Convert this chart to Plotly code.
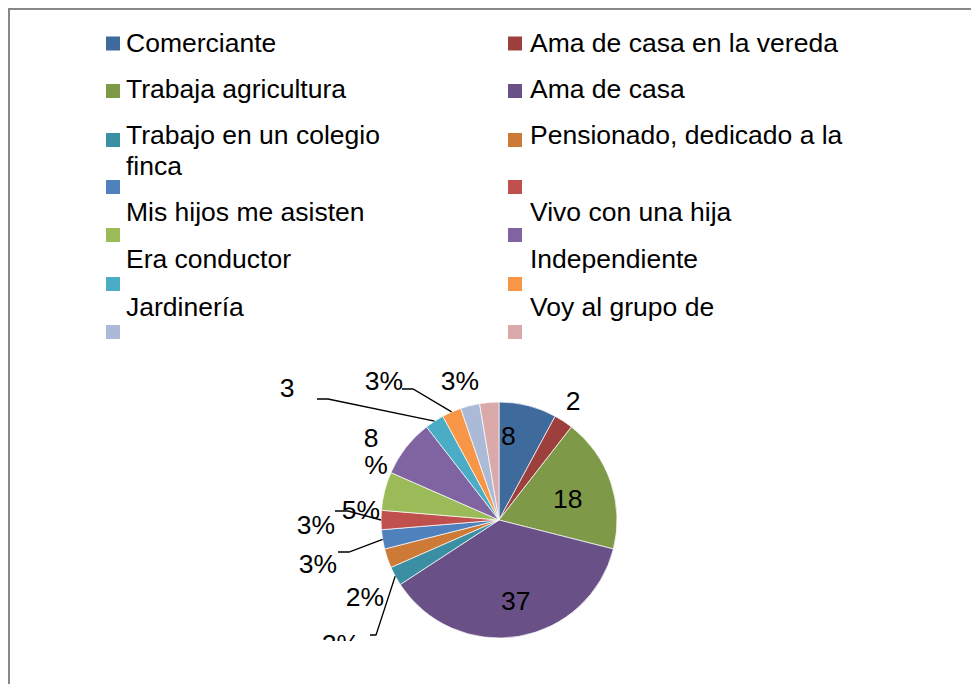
import math
import plotly.graph_objects as go

# ── Data ──────────────────────────────────────────────────────────
categories = [
    "Comerciante", "Ama de casa en la vereda", "Trabaja agricultura",
    "Ama de casa", "Trabajo en un colegio", "Pensionado, dedicado a la finca",
    "Mis hijos me asisten", "Vivo con una hija", "Era conductor",
    "Independiente", "Jardinería", "Voy al grupo de", "Otra", "NO",
]
counts = [3, 1, 7, 14, 1, 1, 1, 1, 2, 3, 1, 1, 1, 1]

# legend text as it shows in the (clipped) legend, "" = cut off
legend_text = [
    "Comerciante", "Ama de casa en la vereda",
    "Trabaja agricultura", "Ama de casa",
    "Trabajo en un colegio\nfinca", "Pensionado, dedicado a la",
    "Mis hijos me asisten", "Vivo con una hija",
    "Era conductor", "Independiente",
    "Jardinería", "Voy al grupo de",
    "", "",
]

inside_labels = ["8", "18", "37"]
outside_labels = ["2", "3%", "3%", "3", "8", "%", "5%", "3%", "3%", "2%", "2%"]

colors = [
    "#3F6A9C", "#9D403D", "#7E9A48", "#695086", "#3A8FA3", "#CC7A36",
    "#4F81BD", "#C0504D", "#9BBB59", "#8064A2", "#4BACC6", "#F79646",
    "#AABAD7", "#D9AAA9",
]

# ── Layout constants (screen pixels) ──────────────────────────────
W, H = 979, 684
OFF = 8                                  # page body margin
CX, CY, R = 499, 520, 118
FONT = dict(family="Liberation Sans, Arial, sans-serif", size=26.5, color="#000000")

leg_x = [106, 508]                       # square left edge per column
leg_text_x = [124, 528]
leg_square_y = [43.5, 91, 140, 187, 235, 284, 332]
leg_text_y = [[43], [89], [135, 166], [212], [259], [307], []]

inside_pos = [(508, 436), (567, 499), (515, 601)]
outside_pos = [(573, 403), (384, 383), (460, 383), (287, 390), (371, 440),
               (376, 467), (361, 512), (316, 527), (318, 566), (365, 599),
               (341, 646)]

# leader lines: (slice index, start point, elbow point)
leaders = [
    (10, (317, 399), (328, 399)),
    (11, (402, 389), (413, 389)),
    (7, (335, 511), (348, 511)),
    (6, (338, 552), (349, 552)),
    (4, (370, 635), (376, 635)),
]

total = sum(counts)


def edge(i):
    mid = (sum(counts[:i]) + counts[i] / 2) / total * 2 * math.pi
    return CX + R * math.sin(mid), CY - R * math.cos(mid)


fig = go.Figure()

fig.add_trace(go.Scatter(
    x=[p[0] for p in outside_pos],
    y=[p[1] for p in outside_pos],
    mode="text",
    text=outside_labels,
    textposition="middle center",
    textfont=FONT,
    hoverinfo="skip",
    showlegend=False,
))

fig.add_trace(go.Pie(
    labels=categories,
    values=counts,
    sort=False,
    direction="clockwise",
    rotation=0,
    marker=dict(colors=colors, line=dict(color="#ffffff", width=0.7)),
    textinfo="none",
    domain=dict(x=[(CX - R - OFF) / W, (CX + R - OFF) / W],
                y=[1 - (CY + R - OFF) / H, 1 - (CY - R - OFF) / H]),
    hovertemplate="%{label}: %{value}<extra></extra>",
    showlegend=False,
))

shapes = []
annotations = []

# legend: squares + text
for i, txt in enumerate(legend_text):
    col, row = i % 2, i // 2
    sy = leg_square_y[row]
    shapes.append(dict(type="rect", xref="x", yref="y",
                       x0=leg_x[col], x1=leg_x[col] + 14, y0=sy - 7, y1=sy + 7,
                       fillcolor=colors[i], line=dict(width=0)))
    lines = txt.split("\n") if txt else []
    for line, ty in zip(lines, leg_text_y[row]):
        annotations.append(dict(xref="x", yref="y", x=leg_text_x[col], y=ty,
                                text=line, showarrow=False, xanchor="left",
                                yanchor="middle", font=FONT))

for txt, (x, y) in zip(inside_labels, inside_pos):
    annotations.append(dict(xref="x", yref="y", x=x, y=y, text=txt,
                            showarrow=False, font=FONT))

for idx, (x0, y0), (x1, y1) in leaders:
    ex, ey = edge(idx)
    shapes.append(dict(type="path", xref="x", yref="y",
                       path=f"M {x0},{y0} L {x1},{y1} L {ex:.1f},{ey:.1f}",
                       line=dict(color="#000000", width=1.3)))

# clip the bottom of the plot area, then the grey frame
shapes.append(dict(type="rect", xref="x", yref="y", x0=9, x1=W + OFF, y0=641,
                   y1=H + OFF, fillcolor="#ffffff", line=dict(width=0),
                   layer="above"))
shapes.append(dict(type="line", xref="x", yref="y", x0=OFF, x1=W + OFF,
                   y0=OFF + 1, y1=OFF + 1,
                   line=dict(color="#888888", width=2), layer="above"))
shapes.append(dict(type="line", xref="x", yref="y", x0=OFF + 1, x1=OFF + 1,
                   y0=OFF, y1=H + OFF,
                   line=dict(color="#888888", width=2), layer="above"))

fig.update_layout(
    width=W,
    height=H,
    margin=dict(t=0, b=0, l=0, r=0),
    paper_bgcolor="#ffffff",
    plot_bgcolor="#ffffff",
    xaxis=dict(range=[OFF, W + OFF], visible=False, fixedrange=True, domain=[0, 1]),
    yaxis=dict(range=[H + OFF, OFF], visible=False, fixedrange=True, domain=[0, 1]),
    shapes=shapes,
    annotations=annotations,
    showlegend=False,
)

fig.write_html("out.html")
